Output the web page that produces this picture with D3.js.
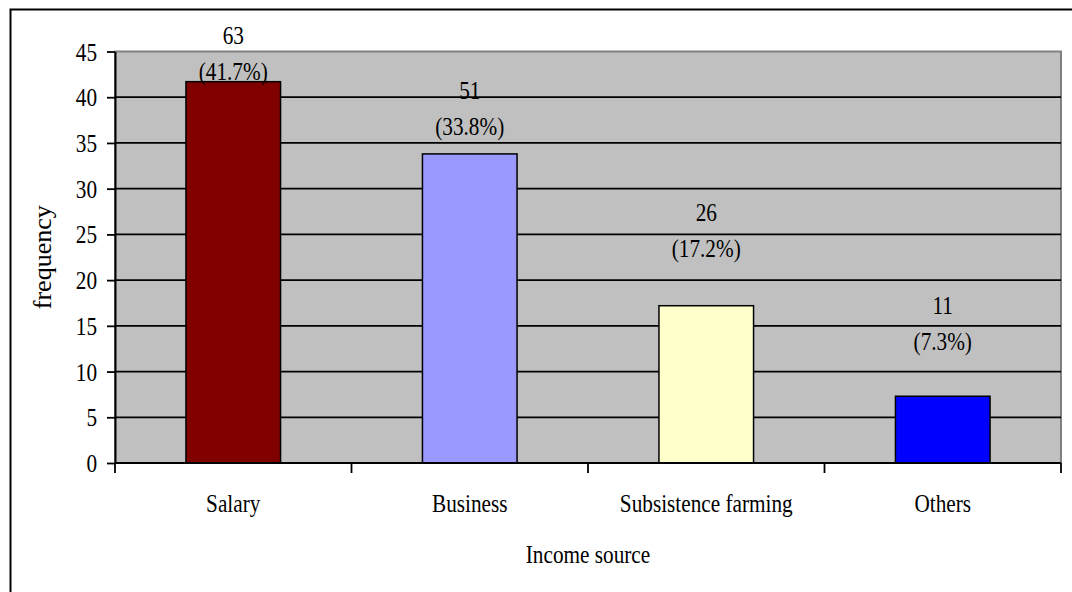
<!DOCTYPE html>
<html>
<head>
<meta charset="utf-8">
<script src="https://cdn.jsdelivr.net/npm/d3@7"></script>
<style>
  body { margin: 0; background: #fff; }
  svg text { font-family: "Liberation Serif", "Times New Roman", serif; fill: #000; }
</style>
</head>
<body>
<svg id="chart" width="1072" height="592"></svg>
<script>
// chart values
const sources = ['Salary', 'Business', 'Subsistence farming', 'Others'];
const counts = [63, 51, 26, 11];
const percents = [41.7, 33.8, 17.2, 7.3];
const barColors = ['#800000', '#9999FF', '#FFFFCC', '#0000FF'];
const yTicks = [0, 5, 10, 15, 20, 25, 30, 35, 40, 45];
// where each data label sits (value level of its lower line)
const labelLevel = [41.9, 35.9, 22.5, 12.4];

const svg = d3.select('#chart');
const squeeze = 0.85; // text in the picture is horizontally compressed
const fontSize = 25;

const margin = { left: 115, right: 1061, top: 51.5, bottom: 463 };

const x = d3.scaleBand()
  .domain(sources)
  .range([margin.left, margin.right])
  .paddingInner(0.6)
  .paddingOuter(0.3);

const y = d3.scaleLinear()
  .domain([0, 45])
  .range([margin.bottom, margin.top]);

const data = sources.map((s, i) => ({
  source: s, count: counts[i], pct: percents[i], color: barColors[i], level: labelLevel[i]
}));

function place(sel, px, py) {
  sel.attr('transform', `translate(${px},${py}) scale(${squeeze},1)`);
}

// outer chart border (runs off the right and bottom edges)
svg.append('rect')
  .attr('x', 10.5).attr('y', 9.5)
  .attr('width', 1100).attr('height', 620)
  .attr('fill', 'none')
  .attr('stroke', '#000')
  .attr('stroke-width', 2);

// plot area
svg.append('rect')
  .attr('x', margin.left).attr('y', margin.top)
  .attr('width', margin.right - margin.left)
  .attr('height', margin.bottom - margin.top)
  .attr('fill', '#C0C0C0')
  .attr('stroke', '#808080')
  .attr('stroke-width', 2);

// gridlines
svg.append('g')
  .selectAll('line')
  .data(yTicks.filter(t => t > 0 && t < 45))
  .enter()
  .append('line')
    .attr('x1', margin.left).attr('x2', margin.right)
    .attr('y1', d => y(d)).attr('y2', d => y(d))
    .attr('stroke', '#000')
    .attr('stroke-width', 1.8);

// bars
svg.append('g')
  .selectAll('rect')
  .data(data)
  .enter()
  .append('rect')
    .attr('x', d => x(d.source))
    .attr('width', x.bandwidth())
    .attr('y', d => y(d.pct))
    .attr('height', d => y(0) - y(d.pct))
    .attr('fill', d => d.color)
    .attr('stroke', '#000')
    .attr('stroke-width', 1.5);

// data labels: count on top, percentage below
const labels = svg.append('g')
  .selectAll('g')
  .data(data)
  .enter()
  .append('g');

labels.append('text')
  .attr('text-anchor', 'middle')
  .style('font-size', fontSize + 'px')
  .text(d => d.count)
  .each(function(d) { place(d3.select(this), x(d.source) + x.bandwidth() / 2, y(d.level) - 36); });

labels.append('text')
  .attr('text-anchor', 'middle')
  .style('font-size', fontSize + 'px')
  .text(d => `(${d.pct}%)`)
  .each(function(d) { place(d3.select(this), x(d.source) + x.bandwidth() / 2, y(d.level)); });

// y axis
const yAxis = d3.axisLeft(y)
  .tickValues(yTicks)
  .tickSize(8)
  .tickSizeOuter(0);

const gy = svg.append('g')
  .attr('transform', `translate(${margin.left},0)`)
  .call(yAxis);

gy.select('.domain').attr('stroke', '#000').attr('stroke-width', 2);
gy.selectAll('.tick line').attr('stroke', '#000').attr('stroke-width', 1.8);
gy.selectAll('.tick text')
  .attr('x', 0).attr('dy', null)
  .style('font-size', fontSize + 'px')
  .attr('text-anchor', 'end')
  .each(function() { place(d3.select(this), -18, 8.5); });

// x axis line with ticks on category boundaries
svg.append('line')
  .attr('x1', margin.left).attr('x2', margin.right)
  .attr('y1', y(0)).attr('y2', y(0))
  .attr('stroke', '#000')
  .attr('stroke-width', 2);

const bounds = sources.map(s => x(s) - x.step() * x.paddingOuter())
  .concat([margin.right]);

svg.append('g')
  .selectAll('line')
  .data(bounds)
  .enter()
  .append('line')
    .attr('x1', d => d).attr('x2', d => d)
    .attr('y1', y(0)).attr('y2', y(0) + 10)
    .attr('stroke', '#000')
    .attr('stroke-width', 1.8);

svg.append('g')
  .selectAll('text')
  .data(sources)
  .enter()
  .append('text')
    .attr('text-anchor', 'middle')
    .style('font-size', fontSize + 'px')
    .text(d => d)
    .each(function(d) { place(d3.select(this), x(d) + x.bandwidth() / 2, 512); });

// axis titles
svg.append('text')
  .attr('text-anchor', 'middle')
  .style('font-size', fontSize + 'px')
  .text('Income source')
  .call(place, (margin.left + margin.right) / 2, 563);

svg.append('text')
  .attr('text-anchor', 'middle')
  .style('font-size', (fontSize + 1) + 'px')
  .attr('transform', `translate(51,${(margin.top + margin.bottom) / 2}) rotate(-90)`)
  .text('frequency');
</script>
</body>
</html>
